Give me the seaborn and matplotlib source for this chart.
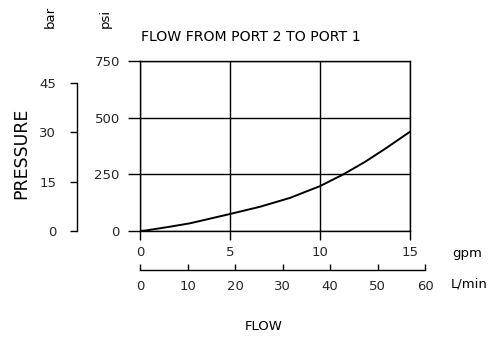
import matplotlib
matplotlib.use("Agg")
import matplotlib.pyplot as plt
import seaborn as sns
import numpy as np

sns.set_theme(style="white")
plt.rcParams['font.family'] = ['DejaVu Sans']

# data
flow_gpm = [0, 0.3, 1.67, 2.78, 5, 6.67, 8.33, 10, 11.3, 12.5, 13.7, 15]
pressure_psi = [0, 2, 19, 34, 75, 107, 146, 198, 250, 305, 367, 438]
gpm_ticks = [0, 5, 10, 15]
psi_ticks = [0, 250, 500, 750]
bar_ticks = [0, 15, 30, 45]
lpm_ticks = [0, 10, 20, 30, 40, 50, 60]
title = "FLOW FROM PORT 2 TO PORT 1"

W, H = 490, 338
fig = plt.figure(figsize=(W / 100, H / 100), dpi=100)
fs = 9.5

def px(x0, y0, x1, y1):
    return [x0 / W, 1 - y1 / H, (x1 - x0) / W, (y1 - y0) / H]

# main axes
ax = fig.add_axes(px(140, 61, 410, 231))
sns.lineplot(x=flow_gpm, y=pressure_psi, ax=ax, color='black', linewidth=1.4)
ax.set_xlim(0, 15)
ax.set_ylim(0, 750)
ax.set_xticks(gpm_ticks)
ax.set_yticks(psi_ticks)
ax.grid(True, color='black', linewidth=1.0)
for s in ax.spines.values():
    s.set_color('black')
    s.set_linewidth(1.0)
ax.tick_params(axis='y', direction='out', length=8.5, width=1.0, color='black',
               pad=6, labelsize=fs, left=True)
ax.tick_params(axis='x', direction='out', length=6.5, width=1.0, color='black',
               pad=4, labelsize=fs, bottom=True)
ax.set_xlabel('')
ax.set_ylabel('')

# bar axis
bar_max = 750 / 14.5038
axb = fig.add_axes(px(77, 61, 78, 231))
axb.set_ylim(0, bar_max)
axb.set_xlim(0, 1)
axb.set_yticks(bar_ticks)
axb.set_xticks([])
for k in ['top', 'right', 'bottom']:
    axb.spines[k].set_visible(False)
axb.spines['left'].set_bounds(0, 45)
axb.spines['left'].set_color('black')
axb.spines['left'].set_linewidth(1.0)
axb.tick_params(axis='y', direction='out', length=5, width=1.0, color='black',
                pad=10, labelsize=fs, left=True)
axb.patch.set_visible(False)

# L/min axis
lpm_per_gpm = 3.78541
x_right = 140 + 60 / lpm_per_gpm * 18
axl = fig.add_axes(px(140, 265, x_right, 270))
axl.set_xlim(0, 60)
axl.set_ylim(0, 1)
axl.set_xticks(lpm_ticks)
axl.set_yticks([])
for k in ['top', 'right', 'left']:
    axl.spines[k].set_visible(False)
axl.spines['bottom'].set_color('black')
axl.spines['bottom'].set_linewidth(1.0)
axl.tick_params(axis='x', direction='in', length=4, width=1.0, color='black',
                pad=7, labelsize=fs, bottom=True)
axl.patch.set_visible(False)

def t(x, y, s, size=fs, **kw):
    fig.text(x / W, 1 - y / H, s, fontsize=size, color='black', ha='center', va='center', **kw)

t(251, 37, title, size=10.2)
t(21, 153, "PRESSURE", size=12.5, rotation=90)
t(50, 17, "bar", rotation=90)
t(105, 18, "psi", rotation=90)
t(467, 253, "gpm")
t(469, 284, "L/min")
t(264, 327, "FLOW")

fig.savefig("out.png", dpi=100)
